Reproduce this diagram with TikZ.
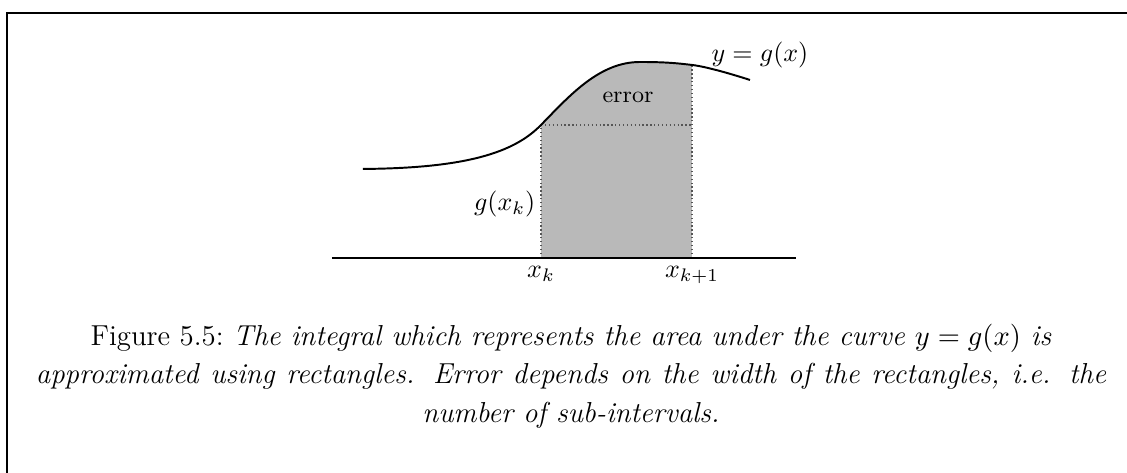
\documentclass[tikz,border=0pt]{standalone}
\usepackage{amsmath}
\definecolor{areagray}{RGB}{185,185,185}
\definecolor{edgegray}{RGB}{85,85,85}
\tikzset{
  edge/.style={densely dotted,line width=0.5pt,edgegray},
  curveline/.style={line width=0.75pt},
  lbl/.style={inner sep=3pt}
}
\begin{document}
\begin{tikzpicture}[x=1cm,y=1cm]
\useasboundingbox (0,0) rectangle (15.236,6.394);
% frame
\draw[line width=0.8pt] (0.095,0) -- (0.095,6.218) -- (15.236,6.218);
\coordinate (c0) at (4.907,4.110);
\coordinate (gk) at (7.314,4.705);
\coordinate (peak) at (8.652,5.556);
\coordinate (top1) at (9.355,5.516);
\coordinate (c4) at (10.139,5.313);
\coordinate (xk) at (7.314,2.907);
\coordinate (xk1) at (9.355,2.907);
\coordinate (gk1) at (9.355,4.705);
% shaded area under the curve
\begin{scope}
\clip (xk) rectangle (9.355,6);
\fill[areagray] (4.907,2.907) -- (c0) .. controls (6.3,4.12) and (6.95,4.33) .. (gk)
  .. controls (7.70,5.10) and (8.1,5.556) .. (peak)
  .. controls (9.0,5.556) and (9.15,5.54) .. (top1)
  .. controls (9.55,5.493) and (9.9,5.39) .. (c4) -- (10.139,2.907) -- cycle;
\end{scope}
\draw[edge] (xk) -- (gk);
\draw[edge] (gk) -- (gk1);
\draw[edge] (xk1) -- (top1);
% curve and axis
\draw[curveline] (c0) .. controls (6.3,4.12) and (6.95,4.33) .. (gk)
  .. controls (7.70,5.10) and (8.1,5.556) .. (peak)
  .. controls (9.0,5.556) and (9.15,5.54) .. (top1)
  .. controls (9.55,5.493) and (9.9,5.39) .. (c4);
\draw[curveline] (4.488,2.907) -- (10.761,2.907);
% labels
\node[lbl,anchor=north] (lxk) at (xk) {$x_k$};
\node[lbl,anchor=north] (lxk1) at (xk1) {$x_{k+1}$};
\node[inner sep=2pt,anchor=east] (lgk) at (7.314,3.637) {$g(x_k)$};
\node (lerr) at (8.490,5.083) {\fontsize{9}{11}\selectfont error};
\node (lcurve) at (10.274,5.651) {$y=g(x)$};
\node[align=center,font=\fontsize{11.1}{14.8}\selectfont] (cap) at (7.72,1.31) {Figure 5.5:\ \textit{The integral which represents the area under the curve $y = g(x)$ is}\\
\makebox[14.47cm][s]{\textit{approximated using rectangles. Error depends on the width of the rectangles, i.e. the}}\\
\textit{number of sub-intervals.}};
\end{tikzpicture}
\end{document}
